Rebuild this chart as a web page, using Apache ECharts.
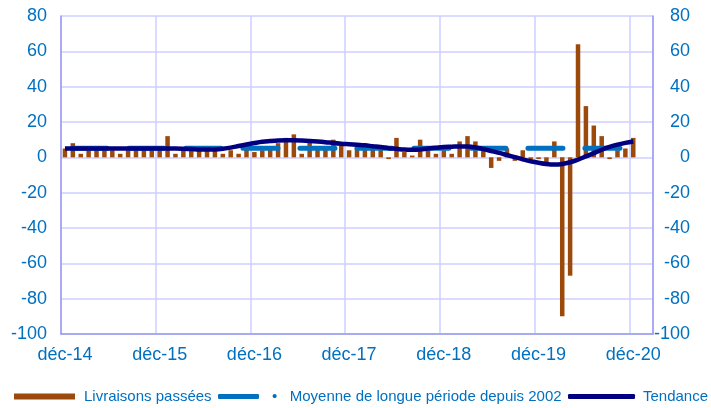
<!DOCTYPE html>
<html>
<head>
    <meta charset="utf-8">
    <title>Livraisons passées</title>
    <script src="https://cdn.jsdelivr.net/npm/echarts@6/dist/echarts.min.js"></script>
    <style>
        html, body { margin: 0; padding: 0; background: #fff; }
    </style>
</head>
<body>
    <div id="main" style="width: 711px;height:408px;"></div>
    <script type="text/javascript">
    // axe des mois : déc-14 ... févr-21 (les deux derniers restent vides)
    var moisFr = ['janv', 'févr', 'mars', 'avr', 'mai', 'juin', 'juil', 'août', 'sept', 'oct', 'nov', 'déc'];
    var categories = ['déc-14'];
    for (var an = 15; an <= 21; an++) {
        for (var m = 0; m < 12; m++) {
            if (an === 21 && m > 1) break;
            categories.push(moisFr[m] + '-' + an);
        }
    }

    // livraisons passées, déc-14 -> déc-20
    var livraisons = [
        5, 8, 2, 4, 4, 4, 4, 2, 4, 4, 4, 4,
        5, 12, 2, 4, 4, 4, 4, 4, 2, 4, 2, 5,
        3, 4, 6, 8, 11, 13, 2, 10, 6, 6, 10, 8,
        4, 5, 5, 5, 5, -1, 11, 3, 1, 10, 4, 2,
        4, 2, 9, 12, 9, 4, -6, -2, 5, -2, 4, -1,
        -1, -3, 9, -90, -67, 64, 29, 18, 12, -1, 4, 5,
        11
    ];

    // tendance
    var tendance = [
        5, 5, 5, 5, 5, 5, 5, 5, 5, 5, 5, 5,
        5, 5, 5, 4.9, 4.7, 4.5, 4.4, 4.5, 4.9, 5.5, 6.4, 7.3,
        8.1, 8.8, 9.2, 9.5, 9.6, 9.6, 9.5, 9.3, 9.0, 8.6, 8.1, 7.7,
        7.4, 7.1, 6.8, 6.3, 5.8, 5.2, 4.8, 4.4, 4.3, 4.5, 5.0, 5.4,
        5.8, 6.0, 6.2, 6.1, 5.6, 4.7, 3.6, 2.5, 1.3, 0.1, -1.1, -2.2,
        -3.1, -3.8, -4.1, -3.8, -2.8, -1.3, 0.5, 2.4, 4.3, 5.9, 7.2, 8.2,
        9
    ];

    // moyenne de longue période depuis 2002 (constante)
    var moyenneLongue = 5.2;
    var moyenne = livraisons.map(function () { return moyenneLongue; });

    var yTicks = { min: -100, max: 80, interval: 20 };

    var bleu = '#0070C0';
    var police = "'Liberation Sans', Arial, sans-serif";
    var grille = '#CFCFFF';
    var cadre = '#9A9AF0';

    var myChart = echarts.init(document.getElementById('main'));

    var nomMoy = 'Moyenne de longue période depuis 2002';
    var legendText = { color: bleu, fontSize: 15, fontFamily: police };

    var option = {
        animation: false,
        textStyle: { fontFamily: police },
        grid: { left: 61, right: 58, top: 16, bottom: 74, containLabel: false },
        legend: [
            {
                left: 14, top: 389, padding: 0,
                itemWidth: 61, itemHeight: 6,
                data: [{ name: 'Livraisons passées', icon: 'rect' }],
                textStyle: Object.assign({ padding: [0, 0, 0, 4] }, legendText)
            },
            {
                left: 218, top: 389, padding: 0,
                itemWidth: 41, itemHeight: 5,
                data: [{ name: nomMoy, icon: 'roundRect' }],
                formatter: function (n) { return '•   ' + n; },
                textStyle: Object.assign({ padding: [0, 0, 0, 8] }, legendText)
            },
            {
                left: 568, top: 389, padding: 0,
                itemWidth: 67, itemHeight: 5,
                data: [{ name: 'Tendance', icon: 'roundRect' }],
                textStyle: Object.assign({ padding: [0, 0, 0, 3] }, legendText)
            }
        ],
        xAxis: {
            type: 'category',
            data: categories,
            boundaryGap: true,
            axisLine: { onZero: false, lineStyle: { color: cadre, width: 1.5 } },
            axisTick: { show: false },
            axisLabel: {
                interval: 11, color: bleu, fontSize: 18, margin: 12,
                fontFamily: police
            },
            splitLine: { show: true, interval: 11, lineStyle: { color: grille, width: 1.5 } }
        },
        yAxis: [
            {
                type: 'value', position: 'left',
                min: yTicks.min, max: yTicks.max, interval: yTicks.interval,
                axisLine: { show: true, lineStyle: { color: cadre, width: 1.5 } },
                axisTick: { show: false },
                axisLabel: { color: bleu, fontSize: 18, margin: 14, fontFamily: police },
                splitLine: { lineStyle: { color: grille, width: 1.5 } }
            },
            {
                type: 'value', position: 'right',
                min: yTicks.min, max: yTicks.max, interval: yTicks.interval,
                axisLine: { show: true, lineStyle: { color: cadre, width: 1.5 } },
                axisTick: { show: false },
                axisLabel: { color: bleu, fontSize: 18, margin: 37, align: 'right', fontFamily: police },
                splitLine: { show: false }
            }
        ],
        series: [
            {
                name: 'Livraisons passées',
                type: 'bar',
                data: livraisons,
                barWidth: 4.5,
                itemStyle: { color: '#9C4A0B' }
            },
            {
                name: nomMoy,
                type: 'line',
                data: moyenne,
                showSymbol: false,
                symbol: 'none',
                itemStyle: { color: bleu },
                lineStyle: { color: bleu, width: 5, type: [35, 22], dashOffset: 50, cap: 'round' }
            },
            {
                name: 'Tendance',
                type: 'line',
                data: tendance,
                smooth: 0.4,
                showSymbol: false,
                symbol: 'none',
                itemStyle: { color: '#000080' },
                lineStyle: { color: '#000080', width: 4.5 }
            }
        ]
    };

    myChart.setOption(option);
    </script>
</body>
</html>
